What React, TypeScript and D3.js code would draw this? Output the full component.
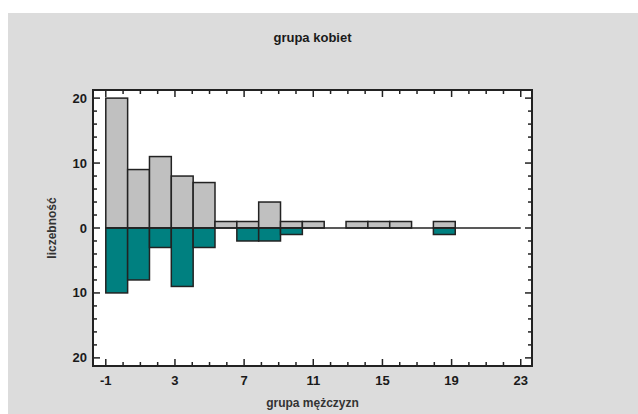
import React from "react";
import * as d3 from "d3";

// Class counts: 19 classes of equal width spanning -1 .. 23
const binStart = -1;
const binEnd = 23;
const binCount = 19;
const womenCounts = [20, 9, 11, 8, 7, 1, 1, 4, 1, 1, 0, 1, 1, 1, 0, 1, 0, 0, 0];
const menCounts = [10, 8, 3, 9, 3, 0, 2, 2, 1, 0, 0, 0, 0, 0, 0, 1, 0, 0, 0];

const xTicks = [-1, 3, 7, 11, 15, 19, 23];
const xMinorTicks = d3.range(-1, 24, 1).filter((v) => !xTicks.includes(v));
const yTicks = [-20, -10, 0, 10, 20];
const yMinorTicks = d3.range(-20, 21, 2).filter((v) => !yTicks.includes(v));

const titleText = "grupa kobiet";
const xLabel = "grupa mężczyzn";
const yLabel = "liczebność";

const W = 638;
const H = 414;
const plot = { left: 93, right: 532, top: 90, bottom: 366 };
const font = "'Liberation Sans', Arial, sans-serif";

export default function App() {
  const x = d3.scaleLinear().domain([-1.74, 23.65]).range([plot.left, plot.right]);
  const y = d3.scaleLinear().domain([-21.25, 21.25]).range([plot.bottom, plot.top]);
  const bw = (binEnd - binStart) / binCount;
  const bins = d3.range(binCount).map((i) => ({
    x0: binStart + i * bw,
    x1: binStart + (i + 1) * bw,
    up: womenCounts[i],
    down: menCounts[i],
  }));
  const major = 7;
  const minor = 4;

  return (
    <svg
      width={W}
      height={H}
      style={{ position: "absolute", left: 0, top: 0, display: "block" }}
      fontFamily={font}
    >
      <rect x={0} y={0} width={W} height={H} fill="#ffffff" />
      <rect x={8} y={13} width={W - 8} height={H - 13} fill="#dcdcdc" />
      <rect
        x={plot.left}
        y={plot.top}
        width={plot.right - plot.left}
        height={plot.bottom - plot.top}
        fill="#ffffff"
      />

      {/* upper bars */}
      {bins
        .filter((b) => b.up > 0)
        .map((b, i) => (
          <rect
            key={"u" + i}
            x={x(b.x0)}
            y={y(b.up)}
            width={x(b.x1) - x(b.x0)}
            height={y(0) - y(b.up)}
            fill="#c0c0c0"
            stroke="#222"
            strokeWidth={1.5}
          />
        ))}
      {/* lower bars */}
      {bins
        .filter((b) => b.down > 0)
        .map((b, i) => (
          <rect
            key={"d" + i}
            x={x(b.x0)}
            y={y(0)}
            width={x(b.x1) - x(b.x0)}
            height={y(-b.down) - y(0)}
            fill="#008080"
            stroke="#222"
            strokeWidth={1.5}
          />
        ))}
      {/* baseline */}
      <line x1={x(binStart)} x2={x(binEnd)} y1={y(0)} y2={y(0)} stroke="#222" strokeWidth={1.5} />

      {/* ticks, all pointing inward */}
      <g stroke="#222" strokeWidth={1.5}>
        {xTicks.map((t) => (
          <g key={"xt" + t}>
            <line x1={x(t)} x2={x(t)} y1={plot.bottom} y2={plot.bottom - major} />
            <line x1={x(t)} x2={x(t)} y1={plot.top} y2={plot.top + major} />
          </g>
        ))}
        {xMinorTicks.map((t) => (
          <g key={"xm" + t}>
            <line x1={x(t)} x2={x(t)} y1={plot.bottom} y2={plot.bottom - minor} />
            <line x1={x(t)} x2={x(t)} y1={plot.top} y2={plot.top + minor} />
          </g>
        ))}
        {yTicks.map((t) => (
          <g key={"yt" + t}>
            <line x1={plot.left} x2={plot.left + major} y1={y(t)} y2={y(t)} />
            <line x1={plot.right} x2={plot.right - major} y1={y(t)} y2={y(t)} />
          </g>
        ))}
        {yMinorTicks.map((t) => (
          <g key={"ym" + t}>
            <line x1={plot.left} x2={plot.left + minor} y1={y(t)} y2={y(t)} />
            <line x1={plot.right} x2={plot.right - minor} y1={y(t)} y2={y(t)} />
          </g>
        ))}
      </g>

      {/* frame */}
      <rect
        x={plot.left}
        y={plot.top}
        width={plot.right - plot.left}
        height={plot.bottom - plot.top}
        fill="none"
        stroke="#222"
        strokeWidth={2}
      />

      {/* tick labels */}
      <g fontSize={13} fontWeight="bold" fill="#1a1a1a">
        {xTicks.map((t) => (
          <text key={"xl" + t} x={x(t)} y={plot.bottom + 19} textAnchor="middle">
            {t}
          </text>
        ))}
        {yTicks.map((t) => (
          <text key={"yl" + t} x={plot.left - 6} y={y(t)} dy="0.35em" textAnchor="end">
            {Math.abs(t)}
          </text>
        ))}
      </g>

      <text
        x={(plot.left + plot.right) / 2}
        y={42}
        textAnchor="middle"
        fontSize={13}
        fontWeight="bold"
        fill="#1a1a1a"
      >
        {titleText}
      </text>
      <text
        x={(plot.left + plot.right) / 2}
        y={407}
        textAnchor="middle"
        fontSize={12}
        fontWeight="bold"
        fill="#333"
      >
        {xLabel}
      </text>
      <text
        transform={`translate(56, ${y(0)}) rotate(-90)`}
        textAnchor="middle"
        fontSize={12}
        fontWeight="bold"
        fill="#333"
      >
        {yLabel}
      </text>
    </svg>
  );
}
